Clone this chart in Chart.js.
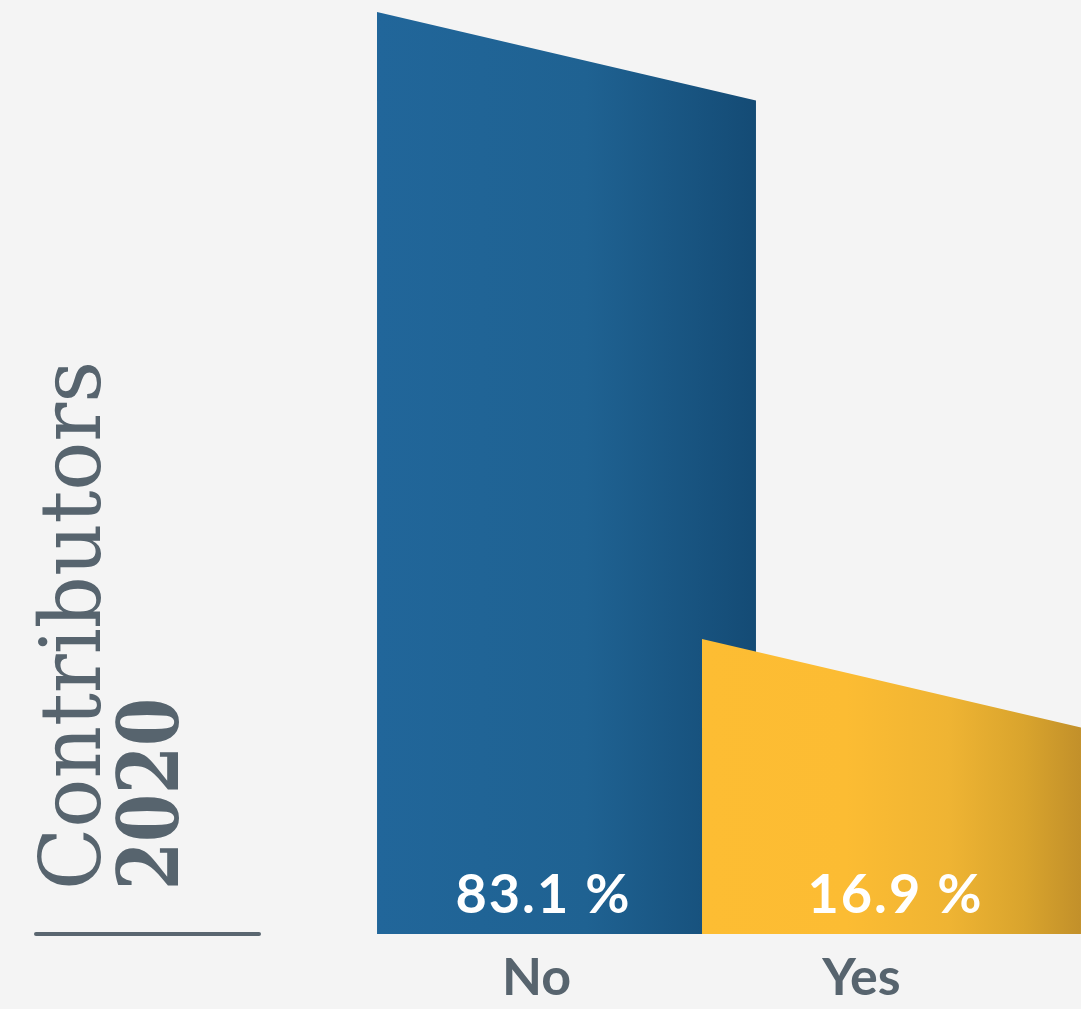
<!DOCTYPE html>
<html>
<head>
<meta charset="utf-8">
<title>Contributors 2020</title>
<script src="https://cdn.jsdelivr.net/npm/chart.js@4.4.1/dist/chart.umd.min.js"></script>
<style>
  html, body { margin: 0; padding: 0; background: #f4f4f4; }
  canvas { display: block; }
</style>
</head>
<body>
<canvas id="chart" width="1081" height="1009"></canvas>
<script>
// Categories and their shares (%)
const categories = ['No', 'Yes'];
const shares = [83.1, 16.9];
const valueLabels = shares.map(v => v.toFixed(1) + ' %');

// Value axis range (bars rise from the axis floor)
const axisFloor = -14.25;
const axisCeil = 84.36;

// Rotated title
const titleMain = 'Contributors';
const titleYear = '2020';

// Horizontal gradient stops per bar
const barGradients = [
  [[0, '#21669a'], [0.55, '#1f6292'], [1, '#144b75']],
  [[0, '#fdbd33'], [0.38, '#fcbc33'], [0.65, '#efb433'], [0.85, '#d9a42d'], [1, '#c2902a']]
];
const slantRatio = 0.2335;
const inkGray = '#57646e';

const background = {
  id: 'background',
  beforeDraw(chart) {
    const ctx = chart.ctx;
    ctx.save();
    ctx.fillStyle = '#f4f4f4';
    ctx.fillRect(0, 0, chart.width, chart.height);
    ctx.restore();
  }
};

// Bars with a sloping top edge and a left-to-right gradient
const slantedBars = {
  id: 'slantedBars',
  beforeDatasetDraw(chart, args) {
    const ctx = chart.ctx;
    args.meta.data.forEach((bar, i) => {
      const { x, y, base, width } = bar.getProps(['x', 'y', 'base', 'width'], true);
      const l = x - width / 2, r = x + width / 2;
      const drop = width * slantRatio;
      const g = ctx.createLinearGradient(l, 0, r, 0);
      barGradients[i].forEach(([s, c]) => g.addColorStop(s, c));
      ctx.save();
      ctx.fillStyle = g;
      ctx.beginPath();
      ctx.moveTo(l, base);
      ctx.lineTo(l, y);
      ctx.lineTo(r, y + drop);
      ctx.lineTo(r, base);
      ctx.closePath();
      ctx.fill();
      ctx.restore();
    });
    return false;
  }
};

// Value labels at the foot of each bar's visible part
const valueText = {
  id: 'valueText',
  afterDatasetsDraw(chart) {
    const ctx = chart.ctx;
    const bars = chart.getDatasetMeta(0).data;
    ctx.save();
    ctx.fillStyle = '#ffffff';
    ctx.font = 'bold 54px Lato';
    ctx.letterSpacing = '2px';
    ctx.textAlign = 'center';
    ctx.textBaseline = 'alphabetic';
    bars.forEach((bar, i) => {
      const { x, base, width } = bar.getProps(['x', 'base', 'width'], true);
      const l = x - width / 2;
      let r = x + width / 2;
      if (bars[i + 1]) {
        const nb = bars[i + 1].getProps(['x', 'width'], true);
        r = Math.min(r, nb.x - nb.width / 2);
      }
      ctx.fillText(valueLabels[i], (l + r) / 2 + 4, base - 21);
    });
    ctx.restore();
  }
};

// Vertical title with underline rule
const sideTitle = {
  id: 'sideTitle',
  afterDraw(chart) {
    const ctx = chart.ctx;
    const drawRotated = (text, font, bx, by, length) => {
      ctx.save();
      ctx.font = font;
      const w = ctx.measureText(text).width;
      ctx.translate(bx, by);
      ctx.rotate(-Math.PI / 2);
      ctx.scale(length / w, 1);
      ctx.fillStyle = inkGray;
      ctx.textAlign = 'left';
      ctx.textBaseline = 'alphabetic';
      ctx.fillText(text, 0, 0);
      ctx.restore();
    };
    drawRotated(titleMain, '85px "DejaVu Serif"', 100, 890, 529);
    drawRotated(titleYear, 'bold 84px "DejaVu Serif"', 178, 890, 192);

    ctx.save();
    ctx.strokeStyle = '#5a6670';
    ctx.lineWidth = 4;
    ctx.lineCap = 'round';
    ctx.beginPath();
    ctx.moveTo(36, chart.chartArea.bottom);
    ctx.lineTo(259, chart.chartArea.bottom);
    ctx.stroke();
    ctx.restore();
  }
};

new Chart(document.getElementById('chart'), {
  type: 'bar',
  data: {
    labels: categories,
    datasets: [{
      data: shares,
      base: axisFloor,
      backgroundColor: '#1f6392',
      categoryPercentage: 1,
      barPercentage: 1.166,
      clip: false
    }]
  },
  options: {
    responsive: false,
    animation: false,
    devicePixelRatio: 1,
    layout: { padding: { left: 404, right: 27, top: 0, bottom: 0 } },
    plugins: { legend: { display: false }, tooltip: { enabled: false } },
    scales: {
      x: {
        offset: true,
        grid: { display: false, drawTicks: false },
        border: { display: false },
        ticks: {
          color: inkGray,
          font: { family: 'Lato', size: 52, weight: 'bold' },
          padding: 13,
          labelOffset: -30,
          maxRotation: 0
        },
        afterFit(scale) { scale.height = 75; }
      },
      y: {
        display: false,
        min: axisFloor,
        max: axisCeil
      }
    }
  },
  plugins: [background, slantedBars, valueText, sideTitle]
});
</script>
</body>
</html>
